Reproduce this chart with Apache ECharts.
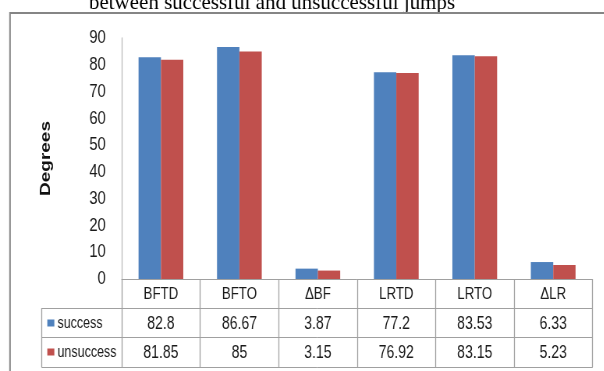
<!DOCTYPE html>
<html>
<head>
<meta charset="utf-8">
<script src="https://cdn.jsdelivr.net/npm/echarts@6/dist/echarts.min.js"></script>
<style>
  html, body { margin: 0; padding: 0; background: #fff; overflow: hidden; }
  #frame { width: 604px; height: 371px; overflow: hidden; position: relative; }
  #chart { height: 371px; transform-origin: 0 0; position: absolute; left: 0; top: 0; }
</style>
</head>
<body>
<div id="frame"><div id="chart"></div></div>
<script>
// Joint angles (degrees) for successful vs. unsuccessful jumps
const categories = ['BFTD', 'BFTO', 'ΔBF', 'LRTD', 'LRTO', 'ΔLR'];
const success = [82.8, 86.67, 3.87, 77.2, 83.53, 6.33];
const unsuccess = [81.85, 85, 3.15, 76.92, 83.15, 5.23];
const seriesNames = ['success', 'unsuccess'];
const seriesColors = ['#4F81BD', '#C0504D'];
const yMin = 0, yMax = 90, yStep = 10;

// The chart is laid out on a wider canvas and squeezed horizontally,
// which gives its lettering the narrow look of the original figure.
const S = 0.78;
const W = 604, H = 371;
const LW = W / S;
const X = px => px / S;        // screen x -> canvas x

const chartEl = document.getElementById('chart');
chartEl.style.width = LW + 'px';
chartEl.style.transform = 'scaleX(' + S + ')';

const gridLeft = X(121.7), gridRight = X(W - 592.7), gridTop = 38, gridBottom = 92;
const rowH = 29;               // height of one data-table row
const headerLeft = X(41.7);    // left edge of the row-header column
const axisY = H - gridBottom;  // y of the category axis line
const tableRight = LW - gridRight;
const lineColor = '#a0a0a0';
const vLine = 1 / S;           // vertical strokes stay 1px after squeezing
const font = '"Liberation Sans", Arial, sans-serif';
const textColor = '#1a1a1a';

const chart = echarts.init(chartEl, null, { renderer: 'canvas' });

function valueAxis(offset, values) {
  return {
    type: 'category',
    data: categories,
    position: 'bottom',
    offset: offset,
    axisLine: { show: false },
    axisTick: { show: false },
    axisLabel: {
      margin: 7, fontSize: 18, color: textColor, fontFamily: font,
      formatter: (v, i) => String(values[i])
    }
  };
}

const tableLines = [];
// horizontal rules of the two value rows
[1, 2, 3].forEach(k => {
  const y = axisY + k * rowH + (k === 3 ? 1 : 0) + 0.5;
  tableLines.push({
    type: 'line',
    shape: { x1: headerLeft, y1: y, x2: tableRight, y2: y },
    style: { stroke: lineColor, lineWidth: 1 }
  });
});
// left edge of the row-header column
tableLines.push({
  type: 'line',
  shape: { x1: headerLeft, y1: axisY + rowH, x2: headerLeft, y2: axisY + 3 * rowH + 1.5 },
  style: { stroke: lineColor, lineWidth: vLine }
});

const legendKeys = [];
seriesNames.forEach((name, i) => {
  const cy = axisY + rowH * (i + 1) + rowH / 2 + 1;
  legendKeys.push({
    type: 'rect',
    shape: { x: X(47.3), y: cy - 4, width: X(7), height: 7 },
    style: { fill: seriesColors[i] }
  });
  legendKeys.push({
    type: 'text',
    style: {
      x: X(57.5), y: cy, text: name, fill: textColor,
      font: '16px ' + font, verticalAlign: 'middle'
    }
  });
});

chart.setOption({
  animation: false,
  backgroundColor: '#fff',
  grid: { left: gridLeft, right: gridRight, top: gridTop, bottom: gridBottom, containLabel: false },
  xAxis: [
    {
      type: 'category',
      data: categories,
      axisLine: { lineStyle: { color: lineColor, width: 1 } },
      axisTick: { show: true, length: rowH * 3 + 1, lineStyle: { color: lineColor, width: vLine } },
      axisLabel: { margin: 7, fontSize: 17, color: textColor, fontFamily: font }
    },
    valueAxis(rowH, success),
    valueAxis(rowH * 2, unsuccess)
  ],
  yAxis: {
    type: 'value',
    min: yMin, max: yMax, interval: yStep,
    name: 'Degrees',
    nameLocation: 'middle',
    nameGap: X(121.7 - 45) - 11,
    nameTextStyle: { fontSize: 19, fontWeight: 'bold', color: '#111', fontFamily: font },
    axisLine: { show: true, lineStyle: { color: '#bdbdbd', width: vLine } },
    axisTick: { show: false },
    splitLine: { show: false },
    axisLabel: { margin: X(16), fontSize: 19, color: textColor, fontFamily: font }
  },
  series: seriesNames.map((name, i) => ({
    name: name,
    type: 'bar',
    data: i === 0 ? success : unsuccess,
    barGap: '0%',
    barCategoryGap: '43%',
    itemStyle: { color: seriesColors[i] }
  })),
  graphic: [
    {
      type: 'rect',
      shape: { x: X(10), y: 13, width: X(700), height: 420 },
      style: { fill: 'none', stroke: '#858585', lineWidth: 2 },
      z: 100
    },
    {
      // heading text is not squeezed: undo the horizontal scale
      type: 'text',
      x: X(272), y: 3,
      scaleX: 1 / S,
      style: {
        x: 0, y: 0, text: 'between successful and unsuccessful jumps',
        font: '21px "Liberation Serif", "Times New Roman", serif',
        fill: '#000', align: 'center', verticalAlign: 'middle'
      }
    }
  ].concat(tableLines, legendKeys)
});
</script>
</body>
</html>
